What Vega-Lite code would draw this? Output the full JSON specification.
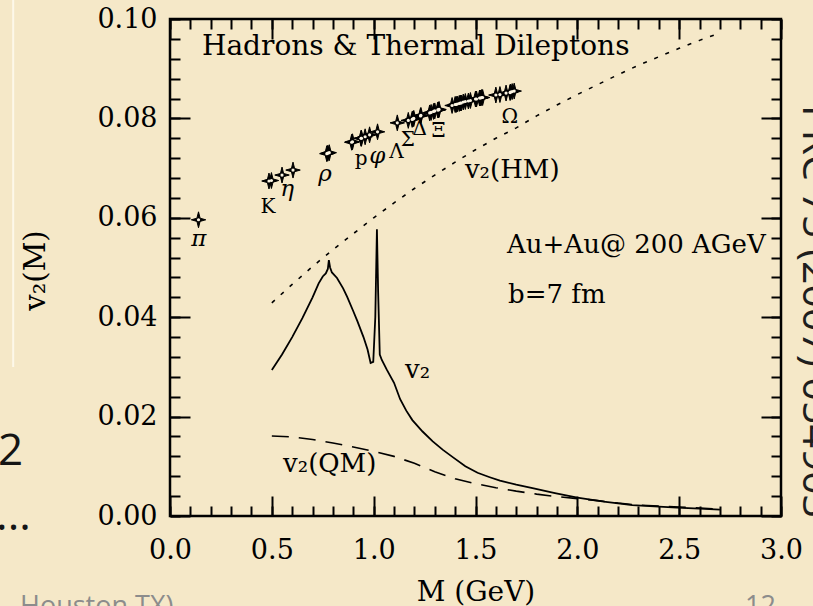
{
  "$schema": "https://vega.github.io/schema/vega-lite/v6.json",
  "width": 611,
  "height": 497,
  "autosize": {"type": "none"},
  "padding": {"left": 170, "top": 19, "right": 32, "bottom": 90},
  "background": "#f5e8c8",
  "config": {
    "view": {"stroke": "#000", "strokeWidth": 2.5},
    "font": "DejaVu Serif",
    "axis": {"grid": false, "domain": false, "tickColor": "#000", "tickWidth": 2, "labelFlush": false, "labelOverlap": false}
  },
  "datasets": {
    "hm": [
      {"M": 0.5, "v": 0.0429}, {"M": 0.6, "v": 0.0466}, {"M": 0.7, "v": 0.0502}, {"M": 0.8, "v": 0.0536},
      {"M": 0.9, "v": 0.0568}, {"M": 1.0, "v": 0.0600}, {"M": 1.1, "v": 0.0630}, {"M": 1.2, "v": 0.0659},
      {"M": 1.3, "v": 0.0686}, {"M": 1.4, "v": 0.0712}, {"M": 1.5, "v": 0.0737}, {"M": 1.6, "v": 0.0760},
      {"M": 1.7, "v": 0.0781}, {"M": 1.8, "v": 0.0805}, {"M": 1.9, "v": 0.0827}, {"M": 2.0, "v": 0.0848},
      {"M": 2.1, "v": 0.0868}, {"M": 2.2, "v": 0.0888}, {"M": 2.3, "v": 0.0907}, {"M": 2.4, "v": 0.0924},
      {"M": 2.5, "v": 0.0941}, {"M": 2.6, "v": 0.0957}, {"M": 2.7, "v": 0.0972}
    ],
    "total": [
      {"M": 0.50, "v": 0.0294}, {"M": 0.55, "v": 0.0325}, {"M": 0.60, "v": 0.0360}, {"M": 0.65, "v": 0.0398},
      {"M": 0.70, "v": 0.0440}, {"M": 0.73, "v": 0.0468}, {"M": 0.75, "v": 0.0482}, {"M": 0.765, "v": 0.0488},
      {"M": 0.775, "v": 0.0497}, {"M": 0.780, "v": 0.0515}, {"M": 0.786, "v": 0.0500}, {"M": 0.795, "v": 0.0490},
      {"M": 0.82, "v": 0.0479}, {"M": 0.85, "v": 0.0458}, {"M": 0.87, "v": 0.0441}, {"M": 0.90, "v": 0.0412},
      {"M": 0.92, "v": 0.0392}, {"M": 0.95, "v": 0.0360}, {"M": 0.97, "v": 0.0335}, {"M": 0.985, "v": 0.0308},
      {"M": 0.998, "v": 0.0310}, {"M": 1.008, "v": 0.0400}, {"M": 1.016, "v": 0.0577}, {"M": 1.022, "v": 0.0450},
      {"M": 1.030, "v": 0.0325}, {"M": 1.04, "v": 0.0314}, {"M": 1.065, "v": 0.0294}, {"M": 1.10, "v": 0.0268},
      {"M": 1.13, "v": 0.0235}, {"M": 1.16, "v": 0.0212}, {"M": 1.19, "v": 0.0193}, {"M": 1.24, "v": 0.0170},
      {"M": 1.29, "v": 0.0150}, {"M": 1.34, "v": 0.0133}, {"M": 1.39, "v": 0.0118}, {"M": 1.45, "v": 0.0100},
      {"M": 1.51, "v": 0.0087}, {"M": 1.57, "v": 0.0078}, {"M": 1.62, "v": 0.0071}, {"M": 1.70, "v": 0.0063},
      {"M": 1.78, "v": 0.0056}, {"M": 1.89, "v": 0.0046}, {"M": 2.00, "v": 0.0037}, {"M": 2.13, "v": 0.0029},
      {"M": 2.27, "v": 0.0022}, {"M": 2.40, "v": 0.0019}, {"M": 2.49, "v": 0.0017}, {"M": 2.60, "v": 0.0015},
      {"M": 2.70, "v": 0.0013}
    ],
    "qm": [
      {"M": 0.5, "v": 0.0161}, {"M": 0.6, "v": 0.0159}, {"M": 0.7, "v": 0.0154}, {"M": 0.8, "v": 0.0147},
      {"M": 0.9, "v": 0.0139}, {"M": 1.0, "v": 0.0130}, {"M": 1.1, "v": 0.0120}, {"M": 1.2, "v": 0.0106},
      {"M": 1.3, "v": 0.0089}, {"M": 1.4, "v": 0.0075}, {"M": 1.5, "v": 0.0065}, {"M": 1.6, "v": 0.0057},
      {"M": 1.7, "v": 0.0050}, {"M": 1.8, "v": 0.0044}, {"M": 1.9, "v": 0.0039}, {"M": 2.0, "v": 0.0035},
      {"M": 2.1, "v": 0.0031}, {"M": 2.2, "v": 0.0026}, {"M": 2.3, "v": 0.0022}, {"M": 2.4, "v": 0.0020},
      {"M": 2.5, "v": 0.0018}, {"M": 2.6, "v": 0.0016}, {"M": 2.7, "v": 0.0014}
    ],
    "hadrons": [
      {"M": 0.140, "v": 0.0596}, {"M": 0.486, "v": 0.0674}, {"M": 0.498, "v": 0.0675}, {"M": 0.550, "v": 0.0686},
      {"M": 0.604, "v": 0.0696}, {"M": 0.770, "v": 0.0729}, {"M": 0.775, "v": 0.0730}, {"M": 0.782, "v": 0.0731},
      {"M": 0.892, "v": 0.0752}, {"M": 0.896, "v": 0.0753}, {"M": 0.938, "v": 0.0760}, {"M": 0.940, "v": 0.0760},
      {"M": 0.958, "v": 0.0763}, {"M": 0.980, "v": 0.0767}, {"M": 1.019, "v": 0.0773}, {"M": 1.116, "v": 0.0791},
      {"M": 1.170, "v": 0.0796}, {"M": 1.189, "v": 0.0798}, {"M": 1.193, "v": 0.0799}, {"M": 1.197, "v": 0.0800},
      {"M": 1.230, "v": 0.0805}, {"M": 1.232, "v": 0.0806}, {"M": 1.275, "v": 0.0811}, {"M": 1.282, "v": 0.0812},
      {"M": 1.294, "v": 0.0814}, {"M": 1.300, "v": 0.0815}, {"M": 1.315, "v": 0.0817}, {"M": 1.318, "v": 0.0817},
      {"M": 1.321, "v": 0.0818}, {"M": 1.385, "v": 0.0826}, {"M": 1.400, "v": 0.0828}, {"M": 1.405, "v": 0.0828},
      {"M": 1.410, "v": 0.0829}, {"M": 1.420, "v": 0.0830}, {"M": 1.425, "v": 0.0831}, {"M": 1.430, "v": 0.0831},
      {"M": 1.440, "v": 0.0833}, {"M": 1.450, "v": 0.0834}, {"M": 1.465, "v": 0.0835}, {"M": 1.475, "v": 0.0836},
      {"M": 1.500, "v": 0.0839}, {"M": 1.505, "v": 0.0839}, {"M": 1.520, "v": 0.0841}, {"M": 1.525, "v": 0.0841},
      {"M": 1.530, "v": 0.0842}, {"M": 1.535, "v": 0.0842}, {"M": 1.600, "v": 0.0847}, {"M": 1.620, "v": 0.0848},
      {"M": 1.650, "v": 0.0851}, {"M": 1.670, "v": 0.0852}, {"M": 1.672, "v": 0.0853}, {"M": 1.680, "v": 0.0854},
      {"M": 1.690, "v": 0.0855}
    ],
    "hadronTags": [
      {"M": 0.481, "v": 0.0610, "label": "K"},
      {"M": 0.938, "v": 0.0706, "label": "p"},
      {"M": 1.112, "v": 0.0720, "label": "Λ"},
      {"M": 1.168, "v": 0.0744, "label": "Σ"},
      {"M": 1.226, "v": 0.0767, "label": "Δ"},
      {"M": 1.318, "v": 0.0763, "label": "Ξ"},
      {"M": 1.669, "v": 0.0791, "label": "Ω"}
    ],
    "greekTags": [
      {"M": 0.142, "v": 0.0543, "label": "π"},
      {"M": 0.575, "v": 0.0644, "label": "η"},
      {"M": 0.761, "v": 0.0674, "label": "ρ"},
      {"M": 1.018, "v": 0.0710, "label": "φ"}
    ],
    "heading": [
      {"M": 0.157, "v": 0.0928, "label": "Hadrons & Thermal Dileptons"}
    ],
    "notes": [
      {"M": 1.448, "v": 0.0680, "label": "v₂(HM)"},
      {"M": 1.655, "v": 0.0529, "label": "Au+Au@ 200 AGeV"},
      {"M": 1.660, "v": 0.0429, "label": "b=7 fm"},
      {"M": 1.154, "v": 0.0278, "label": "v₂"},
      {"M": 0.555, "v": 0.0089, "label": "v₂(QM)"}
    ],
    "slideDark": [
      {"M": -0.9525, "v": 0.0103, "label": "v2"},
      {"M": -0.854, "v": -0.0028, "label": "..."}
    ],
    "slideGray": [
      {"M": -0.7365, "v": -0.0199, "label": "Houston TX)"},
      {"M": 2.823, "v": -0.0199, "label": "12"}
    ],
    "slideSide": [
      {"M": 3.108, "v": 0.0827, "label": "PRC 75 (2007) 054903"}
    ],
    "slideEdge": [
      {"M": -0.77, "v": 0.104, "v2": 0.030}
    ]
  },
  "layer": [
    {
      "data": {"name": "hm"},
      "mark": {"type": "line", "color": "#000", "strokeWidth": 1.6, "strokeDash": [4, 8]},
      "encoding": {
        "x": {"field": "M", "type": "quantitative", "scale": {"domain": [0, 3], "nice": false, "zero": false},
          "axis": {"orient": "bottom", "values": [0, 0.5, 1, 1.5, 2, 2.5, 3], "format": ".1f", "ticks": false,
            "labelPadding": 21, "labelFont": "DejaVu Serif", "labelFontSize": 27, "labelColor": "#000",
            "title": "M (GeV)", "titleFont": "DejaVu Serif", "titleFontSize": 28, "titleFontWeight": "normal",
            "titleColor": "#000", "titleBaseline": "alphabetic", "titleX": 305.5, "titleY": 84}},
        "y": {"field": "v", "type": "quantitative", "scale": {"domain": [0, 0.1], "nice": false},
          "axis": {"orient": "left", "values": [0, 0.02, 0.04, 0.06, 0.08, 0.1], "format": ".2f", "ticks": false,
            "labelPadding": 13, "labelFont": "DejaVu Serif", "labelFontSize": 27, "labelColor": "#000",
            "title": "v₂(M)", "titleFont": "DejaVu Serif", "titleFontSize": 29, "titleFontWeight": "normal",
            "titleColor": "#000", "titleAngle": -90, "titleAlign": "center", "titleBaseline": "alphabetic",
            "titleX": -126, "titleY": 251}}
      }
    },
    {
      "data": {"name": "total"},
      "mark": {"type": "line", "color": "#000", "strokeWidth": 1.8},
      "encoding": {
        "x": {"field": "M", "type": "quantitative", "scale": {"domain": [0, 3], "nice": false, "zero": false},
          "axis": {"orient": "bottom", "values": [0, 0.5, 1, 1.5, 2, 2.5, 3], "labels": false, "tickSize": -20, "title": null}},
        "y": {"field": "v", "type": "quantitative", "scale": {"domain": [0, 0.1], "nice": false},
          "axis": {"orient": "left", "values": [0, 0.02, 0.04, 0.06, 0.08, 0.1], "labels": false, "tickSize": -20, "title": null}}
      }
    },
    {
      "data": {"name": "qm"},
      "mark": {"type": "line", "color": "#000", "strokeWidth": 1.6, "strokeDash": [17, 10]},
      "encoding": {
        "x": {"field": "M", "type": "quantitative", "scale": {"domain": [0, 3], "nice": false, "zero": false},
          "axis": {"orient": "bottom", "values": [0, 0.1, 0.2, 0.3, 0.4, 0.5, 0.6, 0.7, 0.8, 0.9, 1, 1.1, 1.2, 1.3, 1.4, 1.5, 1.6, 1.7, 1.8, 1.9, 2, 2.1, 2.2, 2.3, 2.4, 2.5, 2.6, 2.7, 2.8, 2.9, 3],
            "labels": false, "tickSize": -10, "title": null}},
        "y": {"field": "v", "type": "quantitative", "scale": {"domain": [0, 0.1], "nice": false},
          "axis": {"orient": "left", "values": [0, 0.004, 0.008, 0.012, 0.016, 0.02, 0.024, 0.028, 0.032, 0.036, 0.04, 0.044, 0.048, 0.052, 0.056, 0.06, 0.064, 0.068, 0.072, 0.076, 0.08, 0.084, 0.088, 0.092, 0.096, 0.1],
            "labels": false, "tickSize": -10, "title": null}}
      }
    },
    {
      "data": {"name": "hadrons"},
      "mark": {"type": "point", "shape": "M0,-1.1L0.22,-0.22L1,0L0.22,0.22L0,1.1L-0.22,0.22L-1,0L-0.22,-0.22Z",
        "size": 210, "filled": true, "color": "#000", "stroke": "#000", "strokeWidth": 1, "opacity": 1},
      "encoding": {
        "x": {"field": "M", "type": "quantitative", "scale": {"domain": [0, 3], "nice": false, "zero": false},
          "axis": {"orient": "top", "values": [0, 0.5, 1, 1.5, 2, 2.5, 3], "labels": false, "tickSize": -20, "title": null}},
        "y": {"field": "v", "type": "quantitative", "scale": {"domain": [0, 0.1], "nice": false},
          "axis": {"orient": "right", "values": [0, 0.02, 0.04, 0.06, 0.08, 0.1], "labels": false, "tickSize": -20, "title": null}}
      }
    },
    {
      "data": {"name": "hadrons"},
      "mark": {"type": "point", "shape": "circle", "size": 10, "filled": true, "color": "#fbf4e2", "opacity": 1},
      "encoding": {
        "x": {"field": "M", "type": "quantitative", "scale": {"domain": [0, 3], "nice": false, "zero": false},
          "axis": {"orient": "top", "values": [0, 0.1, 0.2, 0.3, 0.4, 0.5, 0.6, 0.7, 0.8, 0.9, 1, 1.1, 1.2, 1.3, 1.4, 1.5, 1.6, 1.7, 1.8, 1.9, 2, 2.1, 2.2, 2.3, 2.4, 2.5, 2.6, 2.7, 2.8, 2.9, 3],
            "labels": false, "tickSize": -10, "title": null}},
        "y": {"field": "v", "type": "quantitative", "scale": {"domain": [0, 0.1], "nice": false},
          "axis": {"orient": "right", "values": [0, 0.004, 0.008, 0.012, 0.016, 0.02, 0.024, 0.028, 0.032, 0.036, 0.04, 0.044, 0.048, 0.052, 0.056, 0.06, 0.064, 0.068, 0.072, 0.076, 0.08, 0.084, 0.088, 0.092, 0.096, 0.1],
            "labels": false, "tickSize": -10, "title": null}}
      }
    },
    {
      "data": {"name": "hadronTags"},
      "mark": {"type": "text", "font": "DejaVu Serif", "fontSize": 20, "align": "center", "baseline": "alphabetic", "color": "#000"},
      "encoding": {
        "x": {"field": "M", "type": "quantitative", "scale": {"domain": [0, 3], "nice": false, "zero": false}, "axis": null},
        "y": {"field": "v", "type": "quantitative", "scale": {"domain": [0, 0.1], "nice": false}, "axis": null},
        "text": {"field": "label"}
      }
    },
    {
      "data": {"name": "greekTags"},
      "mark": {"type": "text", "font": "DejaVu Serif", "fontSize": 23, "fontStyle": "italic", "align": "center", "baseline": "alphabetic", "color": "#000"},
      "encoding": {
        "x": {"field": "M", "type": "quantitative", "scale": {"domain": [0, 3], "nice": false, "zero": false}, "axis": null},
        "y": {"field": "v", "type": "quantitative", "scale": {"domain": [0, 0.1], "nice": false}, "axis": null},
        "text": {"field": "label"}
      }
    },
    {
      "data": {"name": "heading"},
      "mark": {"type": "text", "font": "DejaVu Serif", "fontSize": 28, "align": "left", "baseline": "alphabetic", "color": "#000"},
      "encoding": {
        "x": {"field": "M", "type": "quantitative", "scale": {"domain": [0, 3], "nice": false, "zero": false}, "axis": null},
        "y": {"field": "v", "type": "quantitative", "scale": {"domain": [0, 0.1], "nice": false}, "axis": null},
        "text": {"field": "label"}
      }
    },
    {
      "data": {"name": "notes"},
      "mark": {"type": "text", "font": "DejaVu Serif", "fontSize": 26, "align": "left", "baseline": "alphabetic", "color": "#000"},
      "encoding": {
        "x": {"field": "M", "type": "quantitative", "scale": {"domain": [0, 3], "nice": false, "zero": false}, "axis": null},
        "y": {"field": "v", "type": "quantitative", "scale": {"domain": [0, 0.1], "nice": false}, "axis": null},
        "text": {"field": "label"}
      }
    },
    {
      "data": {"name": "slideEdge"},
      "mark": {"type": "rule", "color": "#fdf8ea", "strokeWidth": 2},
      "encoding": {
        "x": {"field": "M", "type": "quantitative", "scale": {"domain": [0, 3], "nice": false, "zero": false}, "axis": null},
        "y": {"field": "v", "type": "quantitative", "scale": {"domain": [0, 0.1], "nice": false}, "axis": null},
        "y2": {"field": "v2"}
      }
    },
    {
      "data": {"name": "slideDark"},
      "mark": {"type": "text", "font": "Open Sans", "fontSize": 44, "align": "left", "baseline": "alphabetic", "color": "#141414"},
      "encoding": {
        "x": {"field": "M", "type": "quantitative", "scale": {"domain": [0, 3], "nice": false, "zero": false}, "axis": null},
        "y": {"field": "v", "type": "quantitative", "scale": {"domain": [0, 0.1], "nice": false}, "axis": null},
        "text": {"field": "label"}
      }
    },
    {
      "data": {"name": "slideGray"},
      "mark": {"type": "text", "font": "Open Sans", "fontSize": 27, "align": "left", "baseline": "alphabetic", "color": "#8c8c8c"},
      "encoding": {
        "x": {"field": "M", "type": "quantitative", "scale": {"domain": [0, 3], "nice": false, "zero": false}, "axis": null},
        "y": {"field": "v", "type": "quantitative", "scale": {"domain": [0, 0.1], "nice": false}, "axis": null},
        "text": {"field": "label"}
      }
    },
    {
      "data": {"name": "slideSide"},
      "mark": {"type": "text", "font": "Open Sans", "fontSize": 41, "angle": 90, "align": "left", "baseline": "alphabetic", "color": "#1e1e1e"},
      "encoding": {
        "x": {"field": "M", "type": "quantitative", "scale": {"domain": [0, 3], "nice": false, "zero": false}, "axis": null},
        "y": {"field": "v", "type": "quantitative", "scale": {"domain": [0, 0.1], "nice": false}, "axis": null},
        "text": {"field": "label"}
      }
    }
  ],
  "resolve": {"axis": {"x": "independent", "y": "independent"}}
}
